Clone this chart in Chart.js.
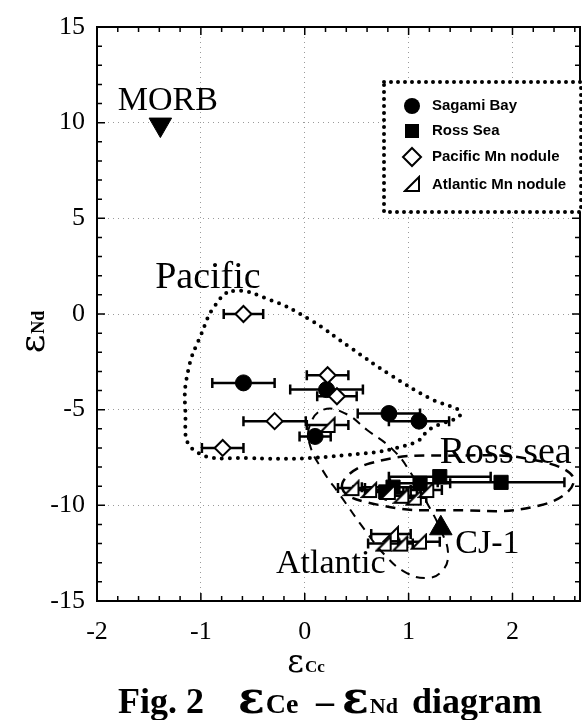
<!DOCTYPE html>
<html>
<head>
<meta charset="utf-8">
<script src="https://cdn.jsdelivr.net/npm/chart.js@4.4.1/dist/chart.umd.min.js"></script>
<style>
  html, body { margin: 0; padding: 0; background: #fff; }
</style>
</head>
<body>
<canvas id="eceChart" width="582" height="720"></canvas>
<script>
// Data (eCe, eNd, error of eCe)
const sagamiX = [-0.59, 0.21, 0.81, 1.10, 0.10];
const sagamiY = [-3.6, -3.95, -5.2, -5.6, -6.4];
const sagamiErr = [0.30, 0.35, 0.30, 0.29, 0.15];

const rossX = [0.85, 1.11, 1.30, 1.89, 0.78];
const rossY = [-9.05, -8.85, -8.5, -8.8, -9.3];
const rossErr = [0.30, 0.29, 0.49, 0.61, 0.20];

const pacificX = [-0.59, 0.22, 0.31, -0.29, -0.79];
const pacificY = [0.0, -3.2, -4.3, -5.6, -7.0];
const pacificErr = [0.19, 0.20, 0.19, 0.30, 0.20];

const atlanticX = [0.22, 0.45, 0.62, 0.80, 0.93, 1.05, 1.17, 0.83, 0.76, 0.92, 1.10];
const atlanticY = [-5.8, -9.1, -9.2, -9.3, -9.5, -9.6, -9.2, -11.5, -12.0, -12.0, -11.9];
const atlanticErr = [0.20, 0.13, 0.15, 0.15, 0.15, 0.12, 0.15, 0.19, 0.15, 0.12, 0.20];

const morbX = [-1.39];
const morbY = [9.9];
const cj1X = [1.31];
const cj1Y = [-11.2];

// field outlines
const pacificLoopX = [-0.69, -0.33, 0.05, 0.45, 0.83, 1.20, 1.50, 1.21, 1.05, 0.41, -0.55, -1.07, -1.15, -1.12, -1.00, -0.86];
const pacificLoopY = [1.2, 0.73, -0.3, -1.8, -3.2, -4.4, -5.2, -6.0, -6.74, -7.37, -7.53, -7.1, -5.0, -2.9, -1.1, 0.47];

const rossLoopX = [0.36, 0.63, 1.50, 2.27, 2.59, 2.27, 1.40, 0.73];
const rossLoopY = [-9.1, -7.8, -7.4, -7.7, -8.7, -10.0, -10.25, -10.0];

const atlanticLoopX = [0.18, 0.39, 0.60, 0.85, 1.02, 1.16, 1.31, 1.38, 1.31, 1.16, 0.97, 0.78, 0.58, 0.34, 0.17, 0.05, 0.05];
const atlanticLoopY = [-5.0, -5.2, -6.06, -7.1, -8.3, -9.7, -11.3, -12.6, -13.5, -13.8, -13.5, -12.65, -11.3, -9.46, -8.15, -6.85, -5.8];

const xTicks = [-2, -1, 0, 1, 2];
const yTicks = [-15, -10, -5, 0, 5, 10, 15];

const fieldLabels = ['MORB', 'Pacific', 'Ross sea', 'Atlantic', 'CJ-1'];
const fieldLabelX = [-1.80, -1.44, 1.30, 0.25, 1.45];
const fieldLabelY = [10.66, 1.36, -7.79, -13.54, -12.49];
const fieldLabelAlign = ['left', 'left', 'left', 'center', 'left'];

const legendNames = ['Sagami Bay', 'Ross Sea', 'Pacific Mn nodule', 'Atlantic Mn nodule'];

function pts(xs, ys) {
  return xs.map((x, i) => ({ x: x, y: ys[i] }));
}

// closed loop: wrap one point on each side so the spline closes smoothly
function loop(xs, ys) {
  const p = pts(xs, ys);
  const n = p.length;
  return [p[n - 1]].concat(p, [p[0], p[1]]);
}

// open right triangle marker for the Atlantic nodules
const atlMarker = document.createElement('canvas');
atlMarker.width = 18;
atlMarker.height = 18;
(function () {
  const c = atlMarker.getContext('2d');
  c.fillStyle = '#fff';
  c.strokeStyle = '#000';
  c.lineWidth = 2;
  c.beginPath();
  c.moveTo(2, 16);
  c.lineTo(16, 16);
  c.lineTo(16, 2);
  c.closePath();
  c.fill();
  c.stroke();
})();

function loopSet(data, dash, width, cap) {
  const last = data.length - 1;
  return {
    data: data,
    showLine: true,
    tension: 0.45,
    pointRadius: 0,
    borderColor: '#000',
    borderWidth: width,
    borderDash: dash,
    borderCapStyle: cap,
    fill: false,
    segment: {
      borderColor: c => (c.p0DataIndex === 0 || c.p1DataIndex === last) ? 'rgba(0,0,0,0)' : '#000'
    }
  };
}

const datasets = [
  loopSet(loop(pacificLoopX, pacificLoopY), [0, 8], 4, 'round'),
  loopSet(loop(rossLoopX, rossLoopY), [10, 7], 2.5, 'butt'),
  loopSet(loop(atlanticLoopX, atlanticLoopY), [9, 7], 2, 'butt'),
  {
    label: legendNames[3], data: pts(atlanticX, atlanticY), xErr: atlanticErr,
    pointStyle: atlMarker, pointRadius: 9
  },
  {
    label: legendNames[2], data: pts(pacificX, pacificY), xErr: pacificErr,
    pointStyle: 'rectRot', pointRadius: 8, backgroundColor: '#fff', borderColor: '#000', borderWidth: 2
  },
  {
    label: legendNames[1], data: pts(rossX, rossY), xErr: rossErr,
    pointStyle: 'rect', pointRadius: 10, backgroundColor: '#000', borderColor: '#000', borderWidth: 1
  },
  {
    label: legendNames[0], data: pts(sagamiX, sagamiY), xErr: sagamiErr,
    pointStyle: 'circle', pointRadius: 8, backgroundColor: '#000', borderColor: '#000', borderWidth: 1
  },
  {
    label: 'MORB', data: pts(morbX, morbY),
    pointStyle: 'triangle', rotation: 180, pointRadius: 13, backgroundColor: '#000', borderColor: '#000'
  },
  {
    label: 'CJ-1', data: pts(cj1X, cj1Y),
    pointStyle: 'triangle', pointRadius: 13, backgroundColor: '#000', borderColor: '#000'
  }
];

// "ε" followed by a subscript, returns the width drawn
function epsText(ctx, x, y, sub, bigFont, subFont, draw) {
  ctx.textAlign = 'left';
  ctx.textBaseline = 'alphabetic';
  ctx.font = bigFont;
  const w1 = ctx.measureText('\u03B5').width;
  if (draw) ctx.fillText('\u03B5', x, y);
  ctx.font = subFont;
  if (draw) ctx.fillText(sub, x + w1 + 1, y);
  return w1 + 1 + ctx.measureText(sub).width;
}

const decor = {
  id: 'decor',
  beforeDatasetsDraw(chart) {
    const ctx = chart.ctx;
    const sx = chart.scales.x, sy = chart.scales.y;
    ctx.save();
    ctx.strokeStyle = '#000';
    ctx.lineWidth = 2.5;
    ctx.beginPath();
    chart.data.datasets.forEach(ds => {
      if (!ds.xErr) return;
      ds.data.forEach((p, i) => {
        const x1 = sx.getPixelForValue(p.x - ds.xErr[i]);
        const x2 = sx.getPixelForValue(p.x + ds.xErr[i]);
        const y = sy.getPixelForValue(p.y);
        ctx.moveTo(x1, y); ctx.lineTo(x2, y);
        ctx.moveTo(x1, y - 5); ctx.lineTo(x1, y + 5);
        ctx.moveTo(x2, y - 5); ctx.lineTo(x2, y + 5);
      });
    });
    ctx.stroke();
    ctx.restore();
  },
  afterDraw(chart) {
    const ctx = chart.ctx;
    const a = chart.chartArea;
    const sx = chart.scales.x, sy = chart.scales.y;
    ctx.save();

    // frame
    ctx.strokeStyle = '#000';
    ctx.lineWidth = 2;
    ctx.strokeRect(a.left, a.top, a.right - a.left, a.bottom - a.top);

    // inward ticks on all sides
    ctx.lineWidth = 1.5;
    ctx.beginPath();
    for (let k = -10; k <= 13; k++) {
      const px = sx.getPixelForValue(k / 5);
      const len = k % 5 === 0 ? 8 : 5;
      ctx.moveTo(px, a.bottom); ctx.lineTo(px, a.bottom - len);
      ctx.moveTo(px, a.top); ctx.lineTo(px, a.top + len);
    }
    for (let k = -15; k <= 15; k++) {
      const py = sy.getPixelForValue(k);
      const len = k % 5 === 0 ? 8 : 5;
      ctx.moveTo(a.left, py); ctx.lineTo(a.left + len, py);
      ctx.moveTo(a.right, py); ctx.lineTo(a.right - len, py);
    }
    ctx.stroke();

    // tick labels
    ctx.fillStyle = '#000';
    ctx.font = '26px "Liberation Serif"';
    ctx.textBaseline = 'middle';
    ctx.textAlign = 'center';
    xTicks.forEach(v => ctx.fillText(String(v), sx.getPixelForValue(v), a.bottom + 31));
    ctx.textAlign = 'right';
    yTicks.forEach(v => ctx.fillText(String(v), a.left - 12, sy.getPixelForValue(v)));

    // field labels
    ctx.textBaseline = 'alphabetic';
    fieldLabels.forEach((t, i) => {
      ctx.font = (i === 1 || i === 2 ? '38px' : '34px') + ' "Liberation Serif"';
      ctx.textAlign = fieldLabelAlign[i];
      ctx.fillText(t, sx.getPixelForValue(fieldLabelX[i]), sy.getPixelForValue(fieldLabelY[i]));
    });

    // legend box
    const bx = 384, by = 82, bw = 197, bh = 130;
    ctx.fillStyle = '#fff';
    ctx.fillRect(bx, by, bw, bh);
    ctx.setLineDash([0, 7]);
    ctx.lineCap = 'round';
    ctx.lineWidth = 4;
    ctx.strokeRect(bx, by, bw, bh);
    ctx.setLineDash([]);
    ctx.lineCap = 'butt';

    const rowY = [106, 131, 157, 185];
    const mx = 412;
    ctx.fillStyle = '#000';
    ctx.strokeStyle = '#000';
    ctx.lineWidth = 2;
    ctx.beginPath(); ctx.arc(mx, rowY[0], 8, 0, Math.PI * 2); ctx.fill();
    ctx.fillRect(mx - 7, rowY[1] - 7, 14, 14);
    ctx.beginPath();
    ctx.moveTo(mx, rowY[2] - 9); ctx.lineTo(mx + 9, rowY[2]); ctx.lineTo(mx, rowY[2] + 9); ctx.lineTo(mx - 9, rowY[2]);
    ctx.closePath();
    ctx.fillStyle = '#fff'; ctx.fill(); ctx.stroke();
    ctx.drawImage(atlMarker, mx - 9, rowY[3] - 10);

    ctx.fillStyle = '#000';
    ctx.font = 'bold 15px "Liberation Sans"';
    ctx.textAlign = 'left';
    ctx.textBaseline = 'middle';
    legendNames.forEach((t, i) => ctx.fillText(t, 432, rowY[i]));

    // axis titles
    const axBig = '32px "DejaVu Serif"';
    const wx = epsText(ctx, 0, 0, 'Cc', axBig, 'bold 17px "Liberation Serif"', false);
    epsText(ctx, 306 - wx / 2, 672, 'Cc', axBig, 'bold 17px "Liberation Serif"', true);

    ctx.save();
    ctx.translate(44, 332);
    ctx.rotate(-Math.PI / 2);
    const wy = epsText(ctx, 0, 0, 'Nd', '36px "DejaVu Serif"', 'bold 18px "Liberation Serif"', false);
    epsText(ctx, -wy / 2, 0, 'Nd', '36px "DejaVu Serif"', 'bold 18px "Liberation Serif"', true);
    ctx.restore();

    // caption
    const capFont = 'bold 36px "Liberation Serif"';
    const capEps = 'bold 44px "DejaVu Serif"';
    const cy = 713;
    ctx.font = capFont;
    ctx.textAlign = 'left';
    ctx.textBaseline = 'alphabetic';
    ctx.fillText('Fig. 2', 118, cy);
    epsText(ctx, 238, cy, 'Ce', capEps, 'bold 28px "Liberation Serif"', true);
    ctx.font = capFont;
    ctx.fillText('\u2013', 316, cy);
    epsText(ctx, 342, cy, 'Nd', capEps, 'bold 22px "Liberation Serif"', true);
    ctx.font = capFont;
    ctx.fillText('diagram', 412, cy);

    ctx.restore();
  }
};

const config = {
  type: 'scatter',
  data: { datasets: datasets },
  options: {
    responsive: false,
    animation: false,
    devicePixelRatio: 1,
    layout: { autoPadding: false, padding: { top: 27, right: 2, left: 0, bottom: 0 } },
    plugins: {
      legend: { display: false },
      tooltip: { enabled: false }
    },
    scales: {
      x: {
        type: 'linear',
        min: -2,
        max: 2.65,
        afterBuildTicks: s => { s.ticks = xTicks.map(v => ({ value: v })); },
        afterFit: s => { s.height = 119; },
        ticks: { display: false },
        grid: { color: '#9a9a9a', lineWidth: 1, drawTicks: false },
        border: { color: '#000', width: 2, dash: [1, 4] }
      },
      y: {
        type: 'linear',
        min: -15,
        max: 15,
        afterBuildTicks: s => { s.ticks = yTicks.map(v => ({ value: v })); },
        afterFit: s => { s.width = 97; },
        ticks: { display: false },
        grid: { color: '#9a9a9a', lineWidth: 1, drawTicks: false },
        border: { color: '#000', width: 2, dash: [1, 4] }
      }
    }
  },
  plugins: [decor]
};

const eceChart = new Chart(document.getElementById('eceChart').getContext('2d'), config);
</script>
</body>
</html>
